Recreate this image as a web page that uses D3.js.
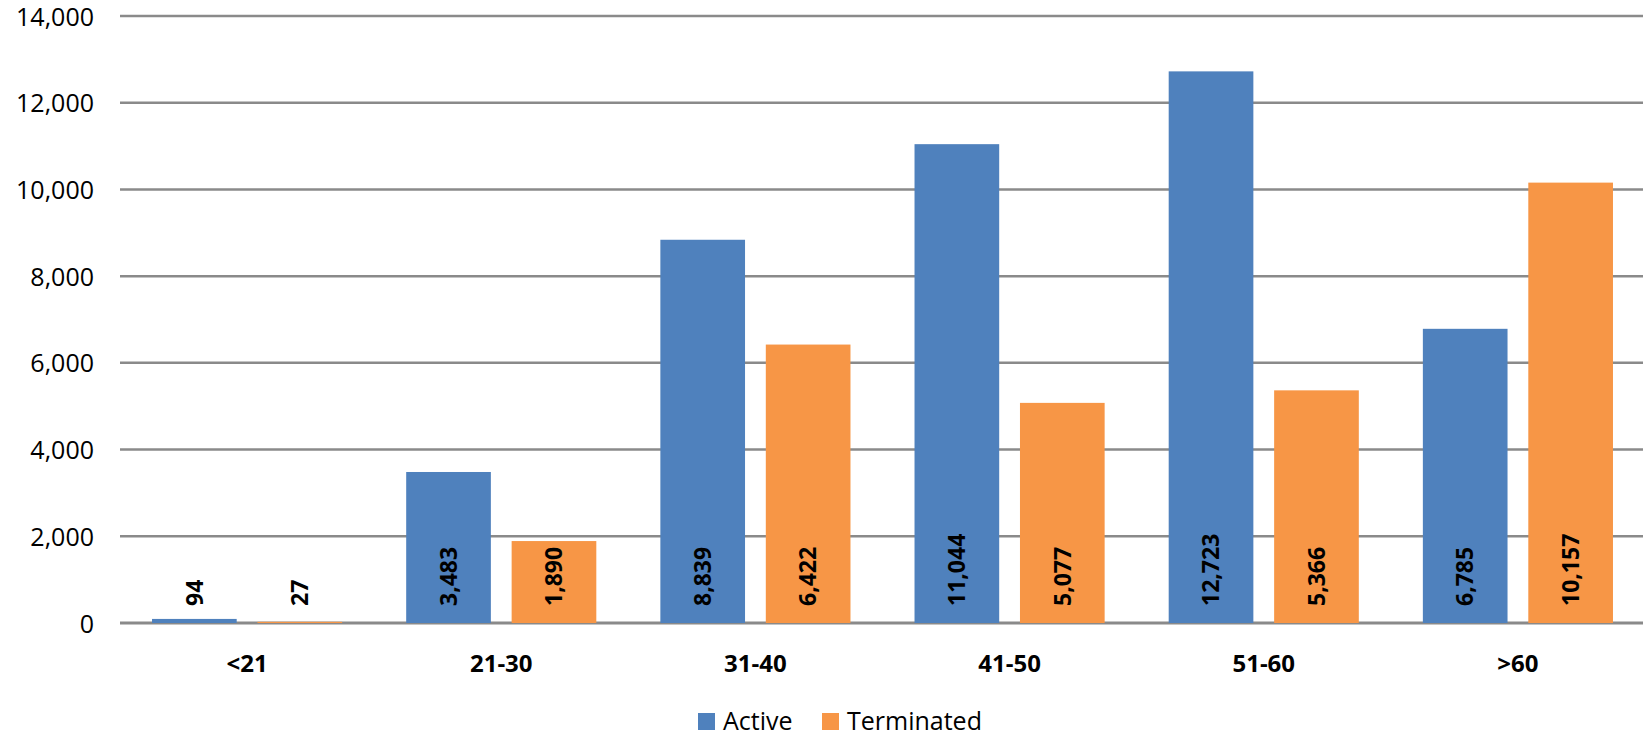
<!DOCTYPE html>
<html><head><meta charset="utf-8">
<script src="https://cdn.jsdelivr.net/npm/d3@7"></script>
<style>body{margin:0;background:#fff}svg{display:block}text{font-family:"Open Sans",sans-serif;fill:#000}</style>
</head><body>
<svg id="c" width="1647" height="737"></svg>
<script>
const categories = ["<21","21-30","31-40","41-50","51-60",">60"];
const seriesNames = ["Active","Terminated"];
const active = [94,3483,8839,11044,12723,6785];
const terminated = [27,1890,6422,5077,5366,10157];
const yTicks = [0,2000,4000,6000,8000,10000,12000,14000];
const colors = ["#4F81BD","#F79646"];

const svg = d3.select("#c");
const x0 = d3.scaleBand().domain(categories).range([120,1645]).paddingInner(0.252).paddingOuter(0.126);
const x1 = d3.scaleBand().domain(seriesNames).range([0,x0.bandwidth()]).paddingInner(0.197);
const y = d3.scaleLinear().domain([0,14000]).range([623,16]);
const fmt = d3.format(",");

// gridlines
svg.append("g").selectAll("line").data(yTicks).join("line")
  .attr("x1",120).attr("x2",1643)
  .attr("y1",d=>y(d)).attr("y2",d=>y(d))
  .attr("stroke","#8a8a8a").attr("stroke-width",d=>d===0?3:2.5);

// y axis labels
const yAxis = d3.axisLeft(y).tickValues(yTicks).tickFormat(fmt).tickSize(0).tickPadding(0);
const ya = svg.append("g").attr("transform","translate(94,0)").call(yAxis);
ya.select(".domain").remove();
ya.selectAll("text").attr("font-size",25).attr("font-family","Open Sans").attr("fill","#000").attr("dy","0.36em");

const data = categories.map((c,i)=>({c, vals:[{s:"Active",v:active[i]},{s:"Terminated",v:terminated[i]}]}));

const g = svg.append("g").selectAll("g").data(data).join("g")
  .attr("transform",d=>`translate(${x0(d.c)},0)`);
g.selectAll("rect").data(d=>d.vals).join("rect")
  .attr("x",d=>x1(d.s)).attr("width",x1.bandwidth())
  .attr("y",d=>y(d.v)).attr("height",d=>y(0)-y(d.v))
  .attr("fill",(d,i)=>colors[i]);
g.selectAll("text").data(d=>d.vals).join("text")
  .attr("transform",d=>`translate(${x1(d.s)+x1.bandwidth()/2},${y(0)-17}) rotate(-90)`)
  .attr("dy","0.36em").attr("text-anchor","start")
  .attr("font-size",23).attr("font-weight","bold")
  .text(d=>fmt(d.v));

// x axis labels
const xAxis = d3.axisBottom(x0).tickSize(0).tickPadding(0);
const xa = svg.append("g").attr("transform","translate(0,672)").call(xAxis);
xa.select(".domain").remove();
xa.selectAll("text").attr("font-size",24).attr("font-weight","bold").attr("font-family","Open Sans").attr("fill","#000").attr("dy",0);

// legend
const leg = svg.append("g");
const items = [{n:"Active",x:698},{n:"Terminated",x:822}];
items.forEach((it,i)=>{
  leg.append("rect").attr("x",it.x).attr("y",713).attr("width",17).attr("height",17).attr("fill",colors[i]);
  leg.append("text").attr("x",it.x+25).attr("y",730).attr("font-size",25).text(it.n);
});
</script>
</body></html>
